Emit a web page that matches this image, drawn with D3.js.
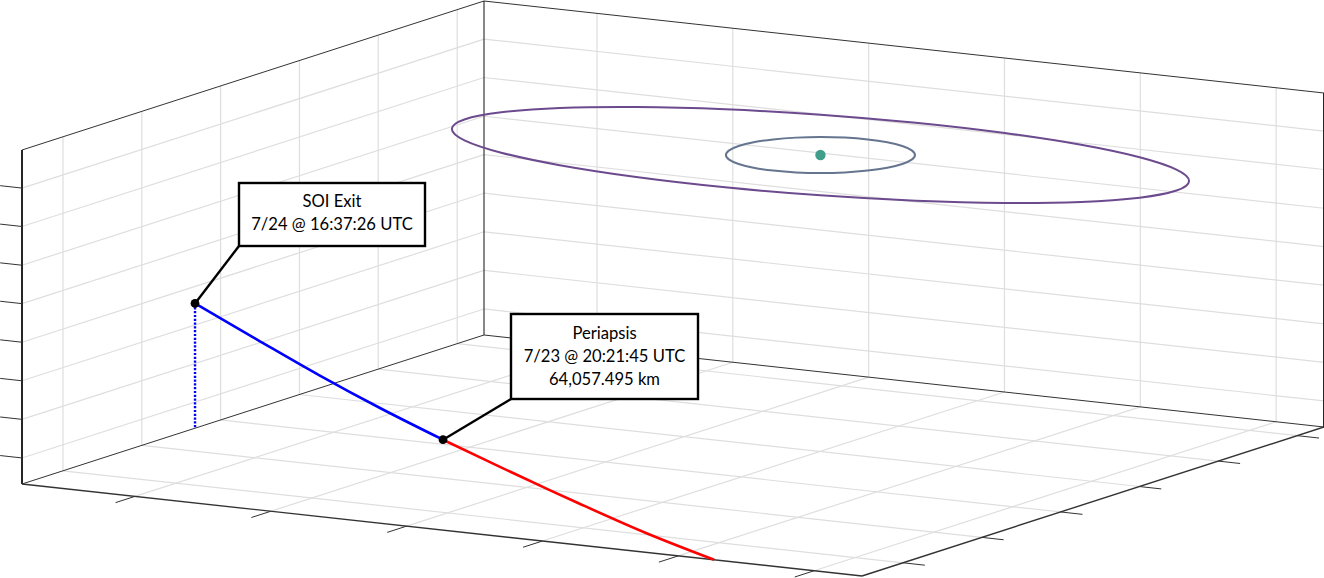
<!DOCTYPE html>
<html>
<head>
<meta charset="utf-8">
<script src="https://cdn.jsdelivr.net/npm/d3@7/dist/d3.min.js"></script>
<style>
html,body{margin:0;padding:0;background:#fff;overflow:hidden}
svg{display:block}
text{font-family:Lato,"Open Sans",sans-serif;font-size:16.6px;fill:#000;text-anchor:middle}
</style>
</head>
<body>
<svg id="chart" width="1324" height="578"></svg>
<script>
// Axis ticks (the original shows tick marks without labels; values are fractions of each axis)
const xTicks = [0.1345, 0.2962, 0.4579, 0.6196, 0.7813, 0.943];
const yTicks = [0.0887, 0.2593, 0.4299, 0.6005, 0.7711, 0.942];
const zTicks = [0.078, 0.1935, 0.309, 0.4245, 0.54, 0.655, 0.771, 0.886];

// Outbound leg, SOI exit to periapsis
const blueX = [0, 0.1163, 0.2278, 0.3336, 0.4334];
const blueY = [0.3745, 0.2973, 0.2286, 0.1704, 0.1233];
const blueZ = [0.3734, 0.332, 0.287, 0.242, 0.197];
// Inbound leg, periapsis to box edge
const redX = [0.4334, 0.5373, 0.6374, 0.735, 0.824];
const redY = [0.1233, 0.0814, 0.0446, 0.0142, 0];
const redZ = [0.197, 0.1475, 0.0988, 0.0494, 0];

// Central body
const bodyX = [0.5393], bodyY = [0.7477], bodyZ = [0.8];
const orbitZ = 0.8;
// Outer orbit
const outerX = [0.9385,0.8961,0.8294,0.743,0.6426,0.5352,0.4281,0.3286,0.2434,0.1784,0.138,0.1249,
                0.1401,0.1825,0.2492,0.3356,0.436,0.5434,0.6505,0.75,0.8352,0.9002,0.9406,0.9537];
const outerY = [0.8197,0.8695,0.9112,0.9416,0.9588,0.9616,0.9499,0.9244,0.8868,0.8398,0.7864,0.7305,
                0.6757,0.6259,0.5842,0.5538,0.5366,0.5338,0.5455,0.571,0.6086,0.6556,0.709,0.7649];
// Inner orbit
const innerX = [0.6233,0.6076,0.5872,0.5636,0.5383,0.5131,0.4897,0.4697,0.4543,0.4448,0.4418,0.4454,
                0.4553,0.471,0.4914,0.515,0.5403,0.5655,0.5889,0.6089,0.6243,0.6338,0.6368,0.6332];
const innerY = [0.7996,0.8211,0.8377,0.8482,0.8518,0.8482,0.8379,0.8214,0.7998,0.7748,0.7479,0.7209,
                0.6958,0.6743,0.6577,0.6472,0.6436,0.6472,0.6575,0.674,0.6956,0.7206,0.7475,0.7745];

// Callouts
const soiLines = ["SOI Exit", "7/24 @ 16:37:26 UTC"];
const periLines = ["Periapsis", "7/23 @ 20:21:45 UTC", "64,057.495 km"];

// Oblique projection built from three linear scales
const X = d3.scaleLinear().domain([0, 1]).range([0, 840]);
const Y = d3.scaleLinear().domain([0, 1]).range([0, 462]);
const Z = d3.scaleLinear().domain([0, 1]).range([0, 334]);
const originX = 22, originY = 484;
const project = (x, y, z) => [
  originX + X(x) + Y(y),
  originY + X(x) * 92 / 840 - Y(y) * 149 / 462 - Z(z)
];

const svg = d3.select("#chart");
const seg = (g, a, b, color, width) => g.append("line")
  .attr("x1", a[0]).attr("y1", a[1]).attr("x2", b[0]).attr("y2", b[1])
  .attr("stroke", color).attr("stroke-width", width);

// Grid
const grid = svg.append("g");
const gridColor = "#dedede";
xTicks.forEach(t => {
  seg(grid, project(t, 0, 0), project(t, 1, 0), gridColor, 1.2);
  seg(grid, project(t, 1, 0), project(t, 1, 1), gridColor, 1.2);
});
yTicks.forEach(t => {
  seg(grid, project(0, t, 0), project(1, t, 0), gridColor, 1.2);
  seg(grid, project(0, t, 0), project(0, t, 1), gridColor, 1.2);
});
zTicks.forEach(t => {
  seg(grid, project(0, 0, t), project(0, 1, t), gridColor, 1.2);
  seg(grid, project(0, 1, t), project(1, 1, t), gridColor, 1.2);
});

// Box edges
const box = svg.append("g");
seg(box, project(0,0,1), project(0,1,1), "#333", 1);
seg(box, project(0,1,1), project(1,1,1), "#333", 1);
seg(box, project(0,1,0), project(0,1,1), "#111", 1);
seg(box, project(0,0,0), project(0,1,0), "#333", 1);
seg(box, project(0,1,0), project(1,1,0), "#333", 1);
seg(box, project(0,0,0), project(0,0,1), "#262626", 2);
seg(box, project(0,0,0), project(1,0,0), "#333", 1.4);
seg(box, project(1,0,0), project(1,1,0), "#333", 1.4);
seg(box, project(1,1,0), project(1,1,1), "#262626", 2);

// Tick marks
const ticks = svg.append("g");
xTicks.forEach(t => seg(ticks, project(t, 0, 0), project(t, -0.042, 0), "#333", 1));
yTicks.forEach(t => seg(ticks, project(1, t, 0), project(1.026, t, 0), "#333", 1));
zTicks.forEach(t => seg(ticks, project(0, 0, t), project(-0.026, 0, t), "#333", 1));

// Orbits
const closed = d3.line().curve(d3.curveCardinalClosed.tension(0));
svg.append("path")
  .attr("d", closed(outerX.map((x, i) => project(x, outerY[i], orbitZ))))
  .attr("fill", "none").attr("stroke", "#6c4a8e").attr("stroke-width", 2);
svg.append("path")
  .attr("d", closed(innerX.map((x, i) => project(x, innerY[i], orbitZ))))
  .attr("fill", "none").attr("stroke", "#65758f").attr("stroke-width", 2);
svg.selectAll("circle.body").data(bodyX).join("circle").attr("class", "body")
  .attr("cx", (d, i) => project(d, bodyY[i], bodyZ[i])[0])
  .attr("cy", (d, i) => project(d, bodyY[i], bodyZ[i])[1])
  .attr("r", 5.2).attr("fill", "#419e8d");

// Trajectory
const open = d3.line().curve(d3.curveCatmullRom.alpha(0.5));
svg.append("path")
  .attr("d", open(redX.map((x, i) => project(x, redY[i], redZ[i]))))
  .attr("fill", "none").attr("stroke", "#ff0000").attr("stroke-width", 2.6);
svg.append("path")
  .attr("d", open(blueX.map((x, i) => project(x, blueY[i], blueZ[i]))))
  .attr("fill", "none").attr("stroke", "#0000ff").attr("stroke-width", 2.6);
seg(svg, project(blueX[0], blueY[0], blueZ[0]), project(blueX[0], blueY[0], 0), "#0000ff", 2.4)
  .attr("stroke-dasharray", "2.2 1.6");

// Callouts and markers
const soi = project(blueX[0], blueY[0], blueZ[0]);
const peri = project(blueX[4], blueY[4], blueZ[4]);
function callout(anchor, bx, by, bw, bh, lines, firstY, step) {
  const g = svg.append("g");
  seg(g, anchor, [bx, by + bh], "#000", 2.4);
  g.append("rect").attr("x", bx).attr("y", by).attr("width", bw).attr("height", bh)
    .attr("fill", "#fff").attr("stroke", "#000").attr("stroke-width", 2.4);
  g.selectAll("text").data(lines).join("text")
    .attr("x", bx + bw / 2).attr("y", (d, i) => firstY + i * step).text(d => d);
  svg.append("circle").attr("cx", anchor[0]).attr("cy", anchor[1]).attr("r", 4.4).attr("fill", "#000");
}
callout(soi, 239, 183, 186, 63, soiLines, 207, 23);
callout(peri, 511, 314, 187, 85, periLines, 339, 23);
</script>
</body>
</html>
